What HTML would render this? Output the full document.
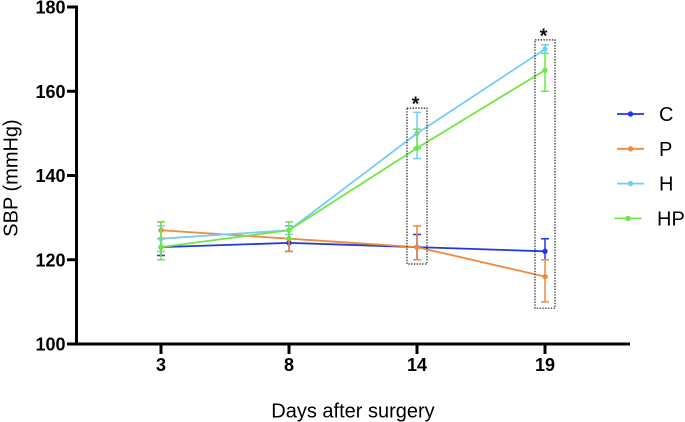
<!DOCTYPE html>
<html>
<head>
<meta charset="utf-8">
<style>
html,body{margin:0;padding:0;background:#fff;}
svg{display:block;font-family:"Liberation Sans",sans-serif;}
</style>
</head>
<body>
<svg id="chart" xmlns="http://www.w3.org/2000/svg" width="685" height="422" viewBox="0 0 685 422"></svg>
<script>
const categories = ['3', '8', '14', '19'];
const yTicks = [100, 120, 140, 160, 180];
const seriesNames = ['C', 'P', 'H', 'HP'];
const seriesC = [123, 124, 123, 122];
const seriesP = [127, 125, 123, 116];
const seriesH = [125, 127, 150, 170];
const seriesHP = [123, 127, 146.5, 165];
const upperC = [125, 128, 126, 125];
const lowerC = [121, 122, 120, 120];
const upperP = [129, 128, 128, 120];
const lowerP = [125, 122, 120, 110];
const upperH = [128, 128, 155, 171];
const lowerH = [122, 126, 144, 169];
const upperHP = [129, 129, 151, 169];
const lowerHP = [120, 125, 146.5, 160];
const significantCategories = ['14', '19'];
const boxUpper = [156, 172.2];
const boxLower = [119, 108.5];

const colors = ['#2038e8', '#f08a3c', '#74cdf7', '#6ee843'];
const allValues = [seriesC, seriesP, seriesH, seriesHP];
const allUpper = [upperC, upperP, upperH, upperHP];
const allLower = [lowerC, lowerP, lowerH, lowerHP];

const svg = document.getElementById('chart');
const NS = 'http://www.w3.org/2000/svg';
function xScale(i) { return 161 + i * 128; }
function yScale(v) { return 344 - (v - 100) * 337 / 80; }
function make(tag, attrs, text) {
  const el = document.createElementNS(NS, tag);
  for (const k in attrs) el.setAttribute(k, attrs[k]);
  if (text !== undefined) el.textContent = text;
  svg.appendChild(el);
  return el;
}
function slug(s) { return s.toLowerCase(); }

// series lines first, error bars and points on top
allValues.forEach(function (vals, s) {
  const name = slug(seriesNames[s]);
  const pts = vals.map(function (v, i) { return xScale(i) + ',' + yScale(v); }).join(' ');
  const line = make('polyline', {points: pts, fill: 'none', stroke: colors[s], 'stroke-width': 1.8});
  
  
});
allValues.forEach(function (vals, s) {
  const name = slug(seriesNames[s]);
  vals.forEach(function (v, i) {
    const x = xScale(i);
    const yU = yScale(allUpper[s][i]);
    const yL = yScale(allLower[s][i]);
    const bar = make('path', {
      d: 'M' + x + ' ' + yU + 'V' + yL + 'M' + (x - 4) + ' ' + yU + 'H' + (x + 4) + 'M' + (x - 4) + ' ' + yL + 'H' + (x + 4),
      fill: 'none', stroke: colors[s], 'stroke-width': 1.5
    });
    
    
    const dot = make('circle', {cx: x, cy: yScale(v), r: 2.7, fill: colors[s]});
    
    
  });
});

// significance boxes
significantCategories.forEach(function (c, b) {
  const i = categories.indexOf(c);
  const cx = xScale(i);
  const top = yScale(boxUpper[b]);
  const bottom = yScale(boxLower[b]);
  const box = make('rect', {
    x: cx - 10, y: top, width: 20, height: bottom - top, fill: 'none',
    stroke: '#222', 'stroke-width': 1.2, 'stroke-dasharray': '1.4 1.4'
  });
  
  
  const star = make('text', {x: cx - 1.5, y: top + 2.5, 'text-anchor': 'middle', 'font-size': 20, 'font-weight': 'bold', fill: '#111'}, '*');
  
  
});

// axes
const yAxis = make('line', {x1: 76.5, x2: 76.5, y1: 5.5, y2: 345.5, stroke: '#000', 'stroke-width': 3});


const xAxis = make('line', {x1: 67, x2: 630, y1: 344, y2: 344, stroke: '#000', 'stroke-width': 3});



yTicks.forEach(function (t) {
  const y = yScale(t);
  const tick = make('line', {x1: 67, x2: 77, y1: y, y2: y, stroke: '#000', 'stroke-width': 3});
  
  
  const label = make('text', {x: 65.5, y: y + 6.5, 'text-anchor': 'end', 'font-size': 18, 'font-weight': 'bold', fill: '#000'}, String(t));
  
  
});
categories.forEach(function (c, i) {
  const x = xScale(i);
  const tick = make('line', {x1: x, x2: x, y1: 344, y2: 354, stroke: '#000', 'stroke-width': 3});
  
  
  const label = make('text', {x: x, y: 371, 'text-anchor': 'middle', 'font-size': 18, 'font-weight': 'bold', fill: '#000'}, c);
  
  
});

const xTitle = make('text', {x: 353, y: 417.5, 'text-anchor': 'middle', 'font-size': 20, fill: '#000'}, 'Days after surgery');


const yTitle = make('text', {x: 17.5, y: 178, 'text-anchor': 'middle', 'font-size': 20, fill: '#000', transform: 'rotate(-90 17.5 178)'}, 'SBP (mmHg)');



// legend
seriesNames.forEach(function (n, s) {
  const y = 114 + s * 34.8;
  const off = n === 'HP' ? -2.5 : 0;
  const name = slug(n);
  const sw = make('line', {x1: 617 + off, x2: 644 + off, y1: y, y2: y, stroke: colors[s], 'stroke-width': 1.8});
  
  
  const dot = make('circle', {cx: 630.5 + off, cy: y, r: 2.7, fill: colors[s]});
  
  
  const label = make('text', {x: 659 + off * 0.8, y: y + 7, 'font-size': 20, fill: '#000'}, n);
  
  
});
</script>
</body>
</html>
